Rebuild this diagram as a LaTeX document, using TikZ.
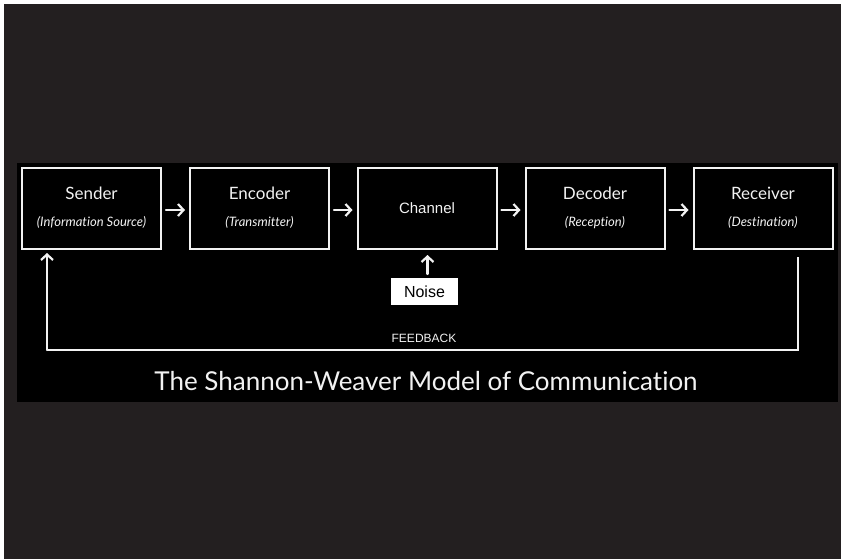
\documentclass[tikz,border=0pt]{standalone}
\usepackage{fontspec}
\setmainfont[Ligatures=NoCommon]{Lato}
\newfontfamily\plainsans{Liberation Sans}
\usetikzlibrary{arrows.meta}
\definecolor{bgdark}{HTML}{231F20}
\definecolor{ink}{HTML}{F2F2F2}

\begin{document}
\begin{tikzpicture}[x=1pt,y=-1pt,
  stagebox/.style={draw=ink, line width=2pt, fill=black, minimum width=139pt,
    minimum height=81pt, inner sep=0pt},
  headtext/.style={text=ink, font=\fontsize{17}{20}\selectfont, inner sep=0pt},
  subtext/.style={text=ink, font=\fontsize{13}{15}\selectfont\itshape, inner sep=0pt},
  flow/.style={draw=ink, line width=2.2pt, line cap=round,
    -{Straight Barb[length=5.5pt,width=12pt,line width=2.2pt]}},
  wire/.style={draw=ink, line width=2pt},
]
% page, frame and dark panel
\useasboundingbox (0,0) rectangle (841,558);
\fill[white] (-2,-2) rectangle (843,560);
\fill[bgdark] (4,4) rectangle (845,562);
\fill[black] (17,163) rectangle (838,402);

% the five stages
\node[stagebox] (sender)   at (91.5,208.5) {};
\node[stagebox] (encoder)  at (259.5,208.5) {};
\node[stagebox] (channel)  at (427,208.5) {};
\node[stagebox] (decoder)  at (595,208.5) {};
\node[stagebox] (receiver) at (763,208.5) {};

\node[headtext] (senderhead)   at ([yshift=15pt]sender.center)   {Sender};
\node[subtext]  (sendersub)    at ([yshift=-14pt]sender.center)  {(Information Source)};
\node[headtext] (encoderhead)  at ([yshift=15pt]encoder.center)  {Encoder};
\node[subtext]  (encodersub)   at ([yshift=-14pt]encoder.center) {(Transmitter)};
\node[text=ink, inner sep=0pt, font=\plainsans\fontsize{15}{18}\selectfont]
  (channelhead) at (channel.center) {Channel};
\node[headtext] (decoderhead)  at ([yshift=15pt]decoder.center)  {Decoder};
\node[subtext]  (decodersub)   at ([yshift=-14pt]decoder.center) {(Reception)};
\node[headtext] (receiverhead) at ([yshift=15pt]receiver.center) {Receiver};
\node[subtext]  (receiversub)  at ([yshift=-14pt]receiver.center) {(Destination)};

% forward flow
\draw[flow] ([xshift=4pt,yshift=-1.5pt]sender.east)  -- ([xshift=-4pt,yshift=-1.5pt]encoder.west);
\draw[flow] ([xshift=4pt,yshift=-1.5pt]encoder.east) -- ([xshift=-4pt,yshift=-1.5pt]channel.west);
\draw[flow] ([xshift=4pt,yshift=-1.5pt]channel.east) -- ([xshift=-4pt,yshift=-1.5pt]decoder.west);
\draw[flow] ([xshift=4pt,yshift=-1.5pt]decoder.east) -- ([xshift=-4pt,yshift=-1.5pt]receiver.west);

% noise source
\node[fill=white, minimum width=67pt, minimum height=27pt, inner sep=0pt,
  font=\plainsans\fontsize{16}{19}\selectfont] (noise) at (424.5,291.5) {Noise};
\draw[flow] (427.5,274) -- ([yshift=-5pt]channel.south -| 427.5,0);

% feedback loop
\coordinate (fbright) at (798,350);
\coordinate (fbleft) at (47,350);
\draw[wire] ([yshift=-7pt]receiver.south -| fbright) -- (fbright) -- (fbleft);
\draw[flow] (fbleft) -- ([yshift=-3pt]sender.south -| fbleft);
\node[text=ink, inner sep=0pt, font=\plainsans\fontsize{12}{14}\selectfont]
  (feedback) at (424,338) {FEEDBACK};

% caption
\node[text=ink, inner sep=0pt, font=\fontsize{26}{31}\selectfont]
  (caption) at (426,381) {The Shannon-Weaver Model of Communication};
\end{tikzpicture}
\end{document}
